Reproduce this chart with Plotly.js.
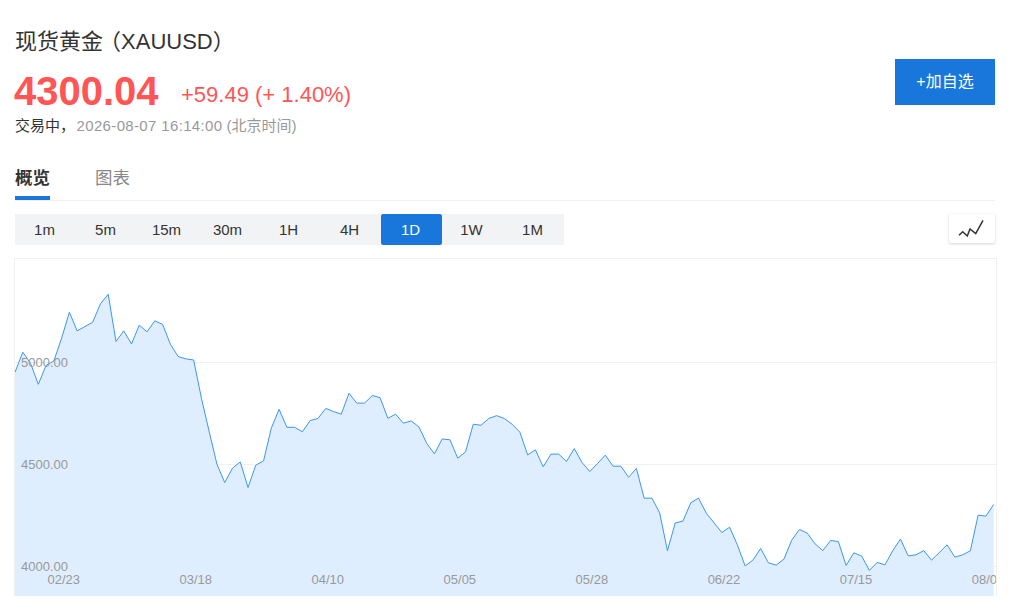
<!DOCTYPE html>
<html lang="zh">
<head>
<meta charset="utf-8">
<title>现货黄金（XAUUSD）</title>
<script src="https://cdn.plot.ly/plotly-3.0.1.min.js"></script>
<style>
html,body{margin:0;padding:0;background:#fff;width:1024px;height:611px;overflow:hidden;font-family:"Liberation Sans","Noto Sans CJK SC",sans-serif;}
.a{position:absolute;white-space:nowrap;}
#title{left:15px;top:27px;font-size:22px;line-height:30px;color:#333;}
#title .tight{letter-spacing:-4px;}
#price{left:14px;top:67px;font-size:40px;line-height:48px;font-weight:bold;color:#FF5555;}
#chg{left:181px;top:80px;font-size:22px;line-height:30px;color:#FF5555;}
#status{left:15px;top:116px;font-size:15px;line-height:20px;color:#333;}
#status span{color:#999;margin-left:1.5px;}
#status b{font-weight:normal;letter-spacing:.35px;}
#add{left:895px;top:59px;width:100px;height:46px;line-height:46px;background:#1976DB;color:#fff;font-size:16px;text-align:center;}
#tab1{left:15px;top:166px;font-size:17.5px;line-height:24px;font-weight:bold;color:#333;}
#tab2{left:95px;top:166px;font-size:17.5px;line-height:24px;color:#888;}
#under{left:15px;top:196px;width:35px;height:4px;background:#1976DB;}
#sep{left:15px;top:200px;width:980px;height:1px;background:#f2f2f2;}
#group{left:15px;top:214px;display:flex;}
#group div{width:59px;padding-right:2px;height:31px;line-height:31px;background:#F2F3F5;color:#333;font-size:15px;text-align:center;}
#group div.on{background:#1976DB;color:#fff;border-radius:2px;}
#icon{left:949px;top:214px;width:46px;height:29px;background:#fff;box-shadow:0 1px 3px rgba(0,0,0,.18);border-radius:2px;}
#box{left:14px;top:258px;width:981px;height:337px;border:1px solid #f0f0f0;border-bottom:none;overflow:hidden;}
#chart{width:981px;height:337px;}
</style>
</head>
<body>
<div class="a" id="title">现货黄<span class="tight">金</span>（XAUUSD）</div>
<div class="a" id="price">4300.04</div>
<div class="a" id="chg">+59.49 (+ 1.40%)</div>
<div class="a" id="status">交易中，<span><b>2026-08-07 16:14:00</b> (北京时间)</span></div>
<div class="a" id="add">+加自选</div>
<div class="a" id="tab1">概览</div>
<div class="a" id="tab2">图表</div>
<div class="a" id="under"></div>
<div class="a" id="sep"></div>
<div class="a" id="group"></div>
<div class="a" id="icon"><svg width="46" height="29"><polyline points="10,21.3 13.7,17.7 18.3,22 21,15 26.7,19.7 34,6.3" fill="none" stroke="#333" stroke-width="1.5"/></svg></div>
<div class="a" id="box"><div id="chart"></div></div>
<script>
const periods = ["1m","5m","15m","30m","1H","4H","1D","1W","1M"];
const activePeriod = "1D";
const prices = [
4951,5049,4995,4892,4984,5006,5117,5244,5153,5174,5195,5285,5332,5101,5153,5089,5181,5148,5202,5185,
5088,5028,5016,5011,4824,4661,4502,4412,4482,4513,4388,4497,4518,4678,4770,4682,4682,4660,4715,4725,
4774,4759,4746,4848,4800,4800,4837,4827,4726,4746,4702,4713,4684,4604,4552,4625,4621,4531,4562,4697,
4692,4725,4739,4725,4697,4658,4547,4572,4489,4551,4551,4515,4578,4510,4466,4505,4546,4492,4492,4438,
4481,4336,4336,4264,4079,4215,4224,4313,4336,4263,4215,4168,4194,4108,4005,4033,4090,4020,4009,4038,
4131,4183,4165,4113,4080,4129,4124,4007,4069,4053,3983,4022,4010,4079,4136,4054,4059,4080,4033,4070,
4108,4048,4059,4079,4253,4248,4305];
const dateTickPositions = [6.27,23.27,40.27,57.27,74.27,91.27,108.27,125.27];
const dateTickLabels = ["02/23","03/18","04/10","05/05","05/28","06/22","07/15","08/07"];
const priceTicks = [4000,4500,5000];
const priceTickLabels = ["4000.00","4500.00","5000.00"];

const group = document.getElementById('group');
periods.forEach(function(p){
  const d = document.createElement('div');
  d.textContent = p;
  if (p === activePeriod) d.className = 'on';
  group.appendChild(d);
});

Plotly.newPlot('chart', [{
  type:'scatter', mode:'lines',
  x: prices.map(function(_, i){ return i; }),
  y: prices,
  fill:'tozeroy', fillcolor:'#DFEEFE',
  line:{color:'#3B96F5', width:1},
  hoverinfo:'y'
}], {
  width:981, height:337,
  margin:{l:0,r:0,t:0,b:0},
  paper_bgcolor:'#fff', plot_bgcolor:'#fff',
  showlegend:false,
  font:{family:'"Liberation Sans","Noto Sans CJK SC",sans-serif', size:12, color:'#999'},
  xaxis:{range:[0,126.3], tickmode:'array', tickvals:dateTickPositions, ticktext:dateTickLabels,
    ticklabelposition:'inside', ticklabeloverflow:'allow', showgrid:false, zeroline:false, showline:false, ticks:'', tickangle:0,
    tickfont:{size:13,color:'#999'}, fixedrange:true, ticklabelstandoff:6},
  yaxis:{range:[3858,5504], tickmode:'array', tickvals:priceTicks, ticktext:priceTickLabels,
    ticklabelposition:'inside', ticklabeloverflow:'allow', showgrid:true, gridcolor:'#f0f0f0', gridwidth:1, zeroline:false, showline:false, ticks:'',
    tickfont:{size:13,color:'#999'}, fixedrange:true, ticklabelstandoff:3}
}, {displayModeBar:false, staticPlot:true});
</script>
</body>
</html>
